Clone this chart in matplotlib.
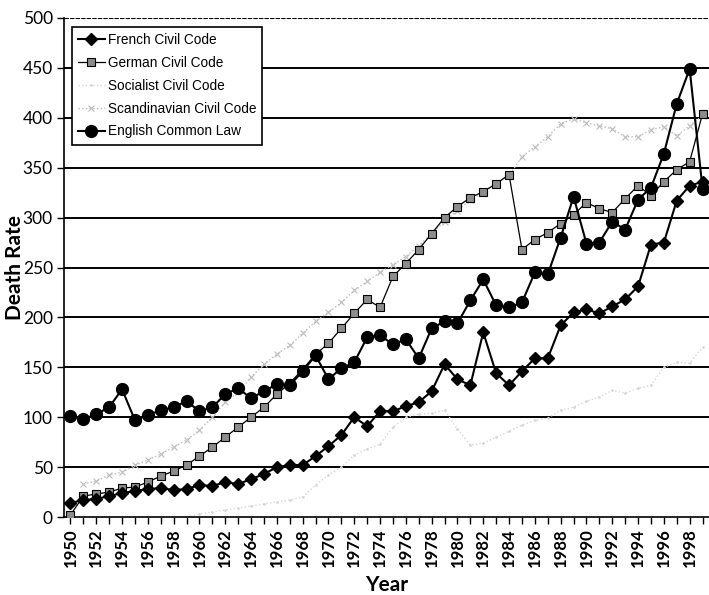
import matplotlib
matplotlib.use('Agg')
import matplotlib.pyplot as plt
import numpy as np

nan = np.nan
years = list(range(1950, 2000))

french = [14, 17, 18, 21, 24, 26, 28, 29, 27, 28,
          32, 31, 35, 33, 38, 43, 50, 52, 52, 61,
          71, 82, 100, 91, 106, 106, 111, 115, 126, 153,
          138, 132, 185, 144, 132, 146, 159, 159, 192, 205,
          208, 204, 211, 218, 231, 273, 275, 317, 332, 336]

german = [2, 21, 23, 25, 29, 30, 35, 41, 46, 52,
          61, 70, 80, 90, 100, 110, 123, 134, 148, 163,
          174, 189, 204, 218, 210, 241, 254, 268, 284, 300,
          311, 320, 326, 334, 343, 268, 278, 285, 294, 303,
          315, 309, 305, 319, 332, 322, 336, 348, 356, 404]

socialist = [nan, nan, nan, nan, nan, nan, nan, nan, nan, 0,
             3, 5, 7, 9, 11, 13, 15, 17, 20, 32,
             42, 50, 62, 68, 73, 90, 100, 103, 104, 107,
             88, 72, 74, 80, 86, 92, 97, 99, 107, 110,
             116, 120, 127, 124, 129, 132, 150, 155, 154, 170]

scandinavian = [nan, 33, 36, 42, 45, 52, 57, 63, 70, 77,
                87, 100, 115, 125, 140, 153, 163, 172, 184, 196,
                205, 215, 227, 236, 245, 253, 261, 272, 284, 296,
                307, 318, 325, 334, 342, 361, 371, 381, 394, 399,
                395, 392, 389, 381, 381, 388, 391, 382, 392, 402]

english = [101, 98, 103, 110, 128, 97, 102, 107, 110, 116,
           106, 110, 123, 129, 119, 126, 133, 132, 146, 162,
           138, 149, 155, 180, 182, 173, 178, 159, 189, 196,
           194, 217, 238, 212, 210, 215, 245, 243, 280, 321,
           274, 275, 296, 288, 318, 330, 364, 414, 449, 329]

plt.rcParams['font.family'] = ['Lato', 'DejaVu Sans']

fig = plt.figure(figsize=(7.09, 5.95), dpi=100)
ax = fig.add_axes([64 / 709, 1 - 517 / 595, 645 / 709, 499 / 595])

for yv in range(50, 500, 50):
    ax.axhline(yv, color='black', linewidth=1.4, zorder=1)
ax.axhline(500, color='black', linewidth=0.8, linestyle=(0, (4, 1)), zorder=1)

ax.plot(years, french, color='black', linewidth=1.5, marker='D', markersize=6.5,
        label='French Civil Code', zorder=4)
ax.plot(years, german, color='black', linewidth=0.9, marker='s', markersize=6,
        markerfacecolor='#8c8c8c', markeredgecolor='black', markeredgewidth=0.8,
        label='German Civil Code', zorder=3)
ax.plot(years, socialist, color='#d8d8d8', linewidth=1, linestyle=':', marker='.',
        markersize=2, label='Socialist Civil Code', zorder=2)
ax.plot(years, scandinavian, color='#bdbdbd', linewidth=1, linestyle=':', marker='x',
        markersize=5, markeredgewidth=0.8, label='Scandinavian Civil Code', zorder=2)
ax.plot(years, english, color='black', linewidth=1.5, marker='o', markersize=8.5,
        label='English Common Law', zorder=5)

ax.set_xlim(1949.5, 1999.5)
ax.set_ylim(0, 500)
ax.set_yticks(range(0, 501, 50))
ax.set_xticks(range(1950, 2000, 2))
ax.set_xticks(range(1951, 2000, 2), minor=True)
ax.tick_params(axis='x', which='both', direction='out', length=5, width=1, pad=3,
               labelsize=12, labelrotation=90)
ax.tick_params(axis='y', direction='out', length=5, width=1, labelsize=12.5, pad=3)
for lbl in ax.get_xticklabels():
    lbl.set_fontweight('bold')

for side in ('top', 'right'):
    ax.spines[side].set_visible(False)
ax.spines['left'].set_linewidth(1.2)
ax.spines['bottom'].set_linewidth(1.2)

ax.set_xlabel('Year', fontsize=15, fontweight='bold', labelpad=6)
ax.set_ylabel('Death Rate', fontsize=15, fontweight='bold', labelpad=-2)

leg = ax.legend(loc='upper left', bbox_to_anchor=(0.012, 0.982), borderaxespad=0,
                fancybox=False, framealpha=1, edgecolor='black', handlelength=2.0,
                handletextpad=0.2, labelspacing=0.65, borderpad=0.45,
                prop={'family': 'Liberation Sans', 'size': 9.8})
leg.get_frame().set_linewidth(1.2)
leg.set_zorder(10)

fig.savefig('out.png', dpi=100)
